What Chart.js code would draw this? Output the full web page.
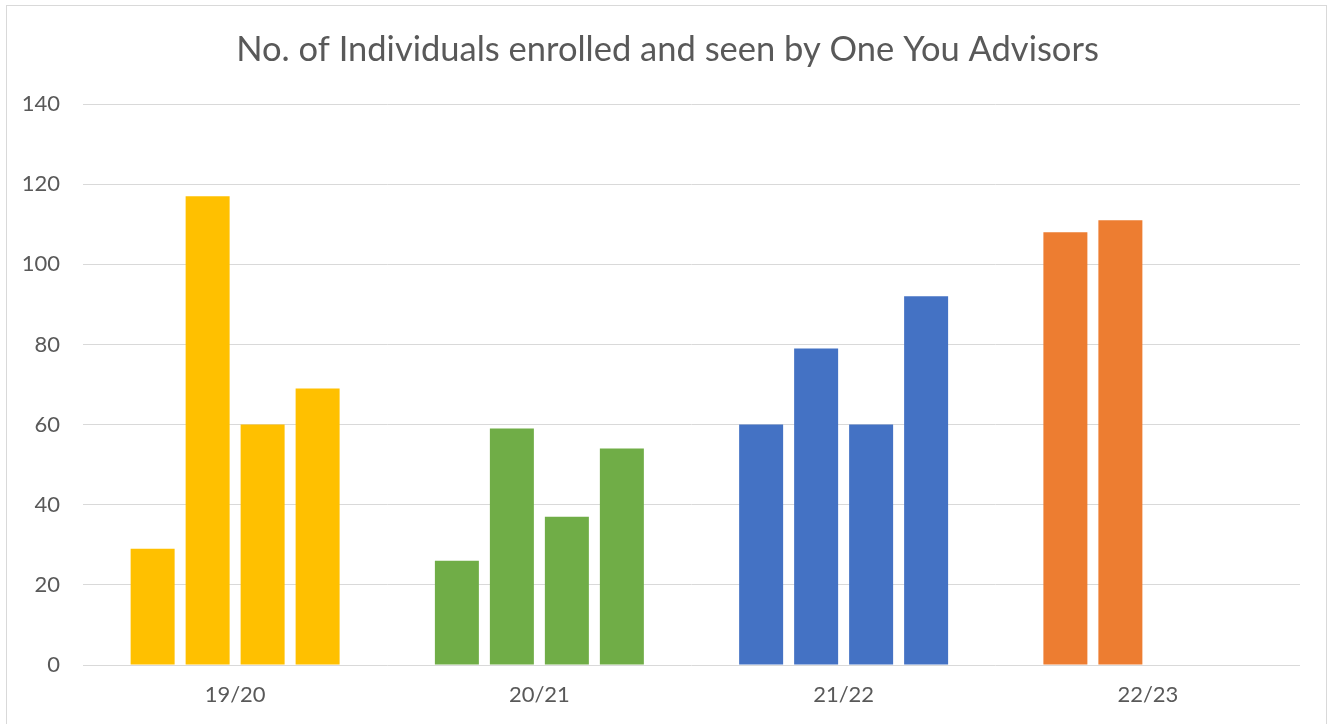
<!DOCTYPE html>
<html>
<head>
<meta charset="utf-8">
<script src="https://cdn.jsdelivr.net/npm/chart.js@4"></script>
<style>
  html, body { margin: 0; padding: 0; background: #fff; overflow: hidden; }
  #wrap { position: relative; width: 1330px; height: 724px; }
  #chart { display: block; }
  #frame { position: absolute; left: 6px; top: 5px; width: 1321px; height: 730px; border: 1px solid #d9d9d9; box-sizing: border-box; pointer-events: none; }
</style>
</head>
<body>
<div id="wrap">
  <canvas id="chart" width="1330" height="724"></canvas>
  <div id="frame"></div>
</div>
<script>
var years = ['19/20', '20/21', '21/22', '22/23'];
var quarter1 = [29, 26, 60, 108];
var quarter2 = [117, 59, 79, 111];
var quarter3 = [60, 37, 60, null];
var quarter4 = [69, 54, 92, null];
var yearColors = ['#FFC000', '#70AD47', '#4472C4', '#ED7D31'];
var yTicks = [0, 20, 40, 60, 80, 100, 120, 140];
var chartTitle = 'No. of Individuals enrolled and seen by One You Advisors';

var textColor = '#595959';
var gridColor = '#d9d9d9';
var fontFamily = 'Lato, "Open Sans", sans-serif';

function makeSet(label, values) {
  return {
    label: label,
    data: values,
    backgroundColor: yearColors,
    borderWidth: 0,
    categoryPercentage: 0.723,
    barPercentage: 0.8,
  };
}

// title centred on the framed chart box, not on the canvas padding
var frameTitle = {
  id: 'frameTitle',
  afterDraw: function (chart) {
    var ctx = chart.ctx;
    ctx.save();
    ctx.fillStyle = textColor;
    ctx.font = '34.5px ' + fontFamily;
    ctx.textAlign = 'center';
    ctx.textBaseline = 'middle';
    ctx.fillText(chartTitle, 667.5, 50);
    ctx.restore();
  },
};

new Chart(document.getElementById('chart'), {
  type: 'bar',
  data: {
    labels: years,
    datasets: [
      makeSet('Q1', quarter1),
      makeSet('Q2', quarter2),
      makeSet('Q3', quarter3),
      makeSet('Q4', quarter4),
    ],
  },
  plugins: [frameTitle],
  options: {
    responsive: false,
    animation: false,
    layout: { padding: { left: 0, right: 30, top: 104, bottom: 0 } },
    plugins: {
      legend: { display: false },
      tooltip: { enabled: false },
      title: { display: false },
    },
    scales: {
      x: {
        grid: { display: false, drawTicks: false },
        border: { display: false },
        ticks: { color: textColor, font: { family: fontFamily, size: 22 }, padding: 17 },
        afterFit: function (scale) { scale.height = 59; },
      },
      y: {
        min: 0,
        max: 140,
        afterBuildTicks: function (scale) {
          scale.ticks = yTicks.map(function (v) { return { value: v }; });
        },
        afterFit: function (scale) { scale.width = 83; },
        grid: { color: gridColor, lineWidth: 1, drawTicks: false },
        border: { display: false },
        ticks: { color: textColor, font: { family: fontFamily, size: 22 }, padding: 23 },
      },
    },
  },
});
</script>
</body>
</html>
